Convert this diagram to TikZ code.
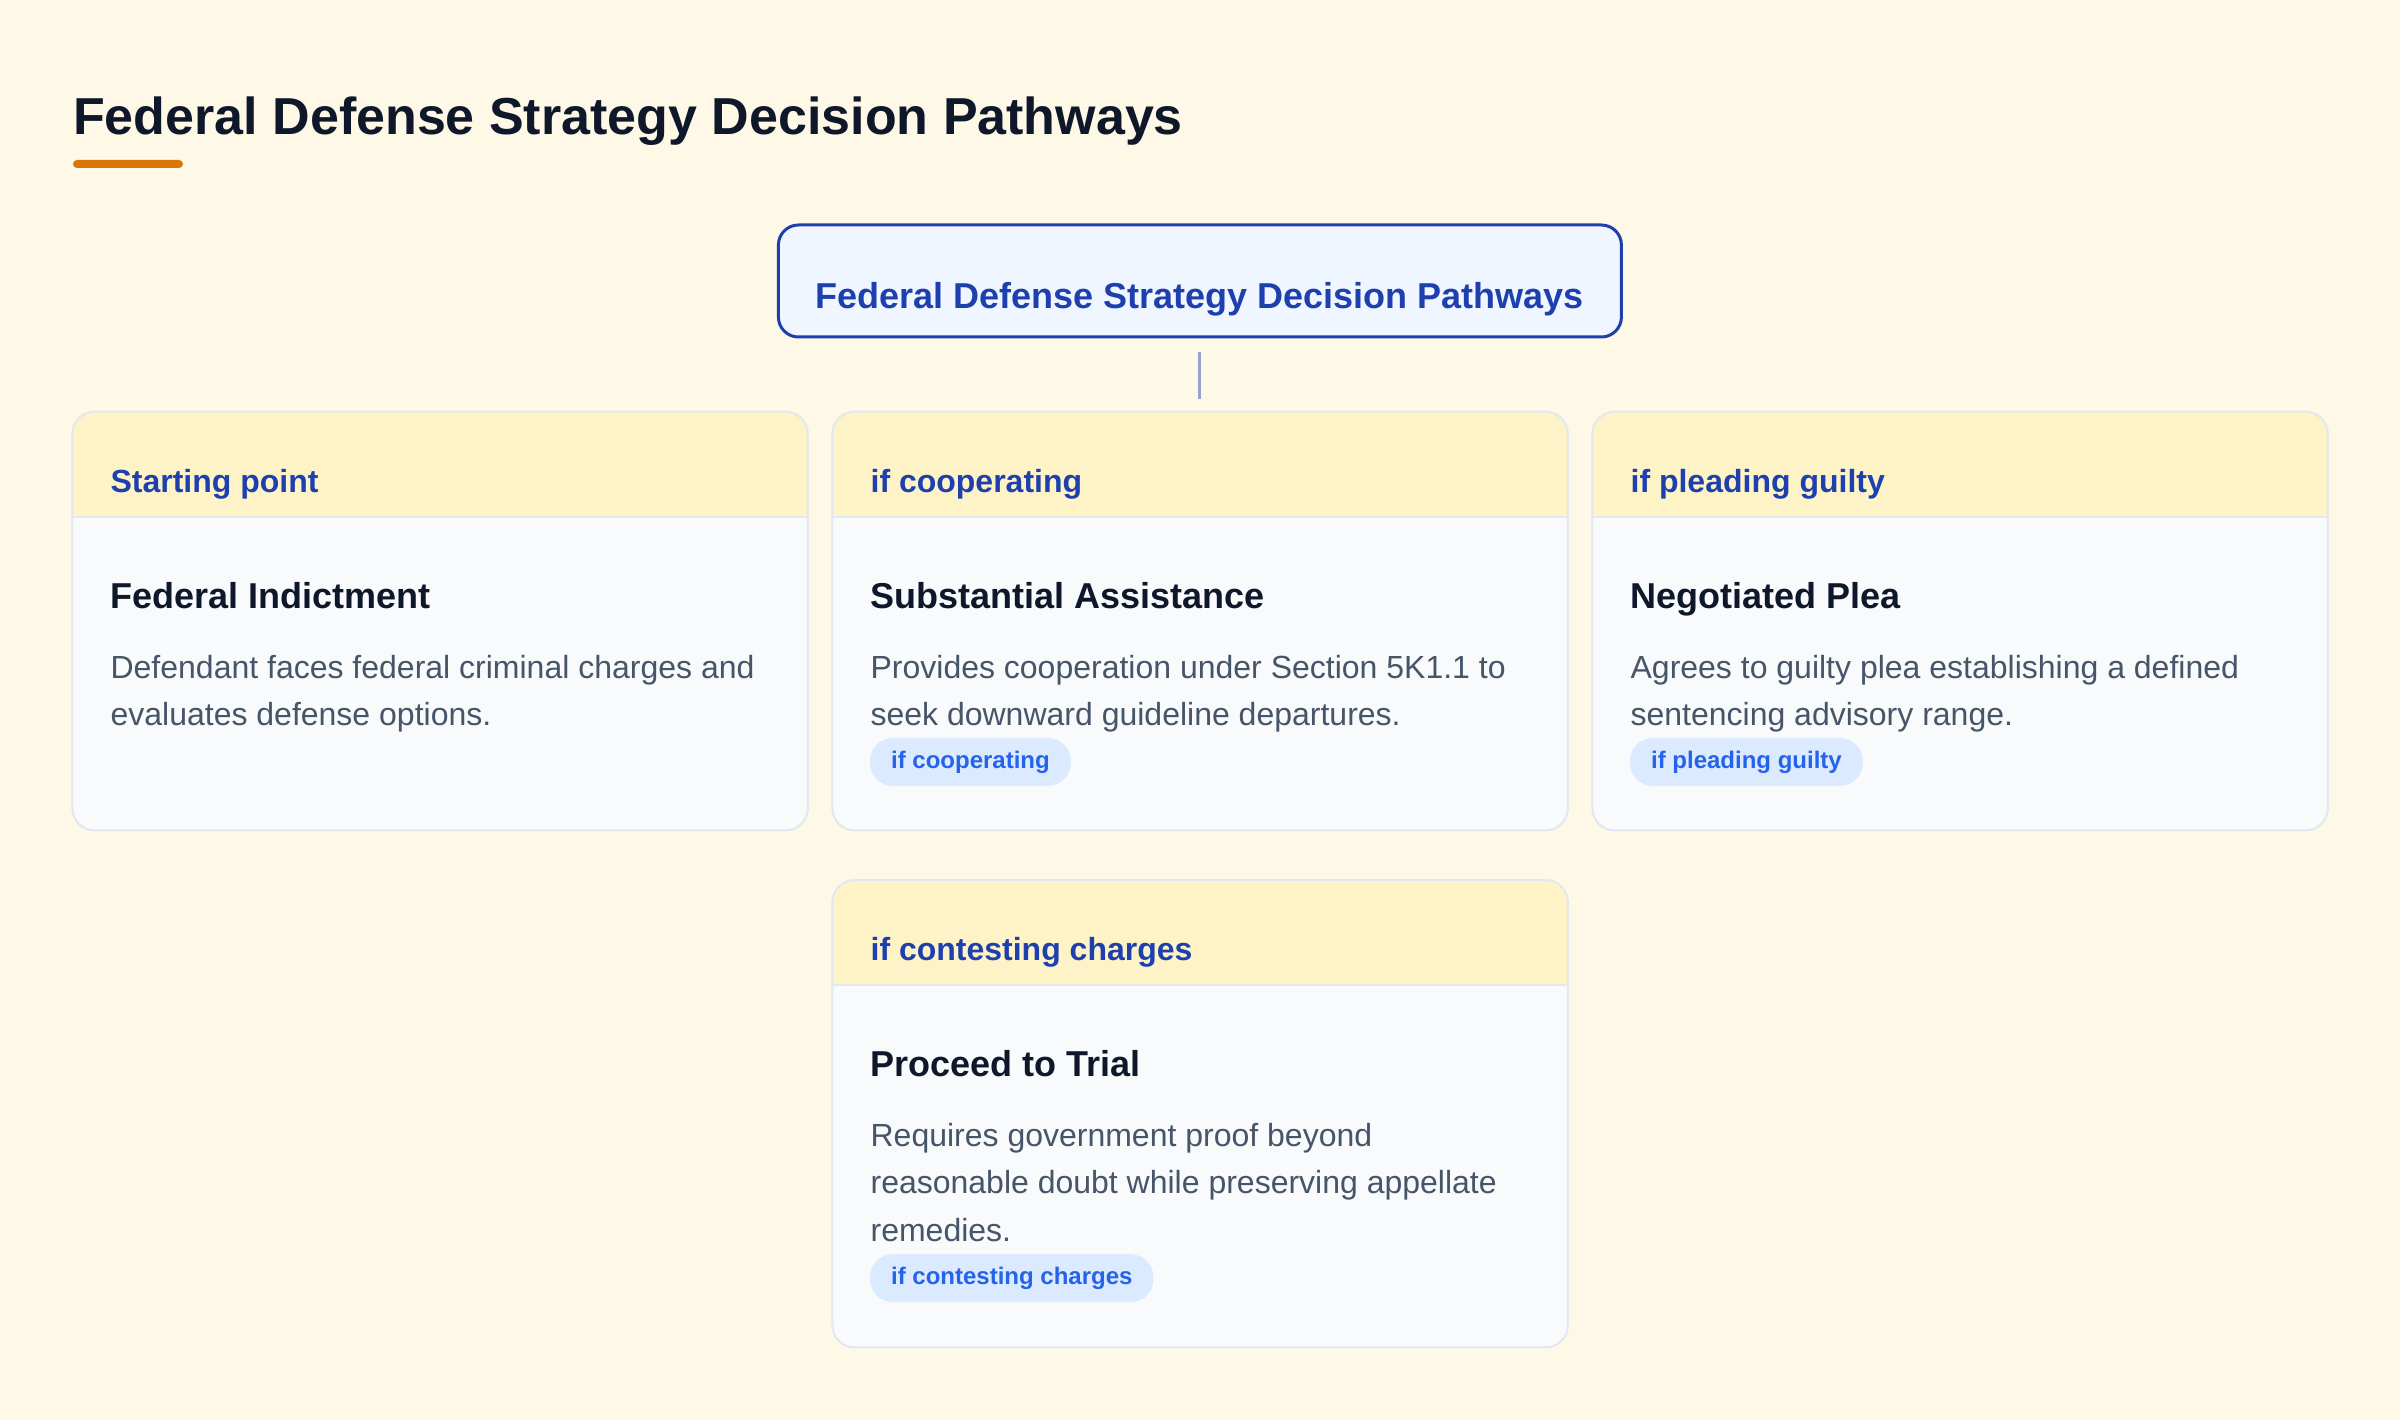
\documentclass[tikz,border=0pt]{standalone}
\usepackage{fontspec}
\setmainfont{Liberation Sans}
\usetikzlibrary{positioning}

\definecolor{bgcream}{HTML}{FEF9E7}
\definecolor{ink}{HTML}{0F172A}
\definecolor{slate}{HTML}{475569}
\definecolor{navy}{HTML}{1E40AF}
\definecolor{accent}{HTML}{D97706}
\definecolor{headfill}{HTML}{FEF3C7}
\definecolor{bodyfill}{HTML}{F8FAFC}
\definecolor{edge}{HTML}{E2E8F0}
\definecolor{rootfill}{HTML}{EFF6FF}
\definecolor{pillfill}{HTML}{DBEAFE}
\definecolor{pilltext}{HTML}{2563EB}
\definecolor{stem}{HTML}{94A3C8}

\tikzset{
  card/.style={fill=bodyfill, rounded corners=22pt, minimum width=735pt, anchor=north west, inner sep=0pt},
  headlbl/.style={anchor=base west, inner sep=0pt, text=navy, font=\bfseries\fontsize{32}{32}\selectfont},
  cardttl/.style={anchor=base west, inner sep=0pt, text=ink, font=\bfseries\fontsize{36}{36}\selectfont},
  cardtxt/.style={anchor=north west, inner sep=0pt, align=left, text=slate, font=\fontsize{32}{47.5}\selectfont},
  pill/.style={anchor=north west, fill=pillfill, rounded corners=23pt, minimum height=48pt, inner xsep=21pt, inner ysep=0pt, text=pilltext, font=\bfseries\fontsize{24}{24}\selectfont},
  root/.style={draw=navy, line width=3pt, fill=rootfill, rounded corners=20pt, minimum width=843pt, minimum height=112pt, inner sep=0pt, text height=84pt, text depth=28pt, text=navy, font=\bfseries\fontsize{36}{36}\selectfont},
  stemline/.style={stem, line width=3pt}
}

\begin{document}
\begin{tikzpicture}[x=1pt,y=-1pt]
\fill[bgcream] (0,0) rectangle (2400,1420);
\useasboundingbox (0,0) rectangle (2400,1420);

\node[anchor=base west, inner sep=0pt, text=ink, font=\bfseries\fontsize{52}{52}\selectfont] (title) at (73,135) {Federal Defense Strategy Decision Pathways};
\fill[accent, rounded corners=4pt] (73,160) rectangle (183,168);

\node[root] (root) at (1199.9,281) {Federal Defense Strategy Decision Pathways};

\foreach \n/\x/\y/\h/\head/\ttl/\desc in {
  one/72.4/411.7/418.3/{Starting point}/{Federal Indictment}/{Defendant faces federal criminal charges and\\evaluates defense options.},
  two/832.4/411.7/418.3/{if cooperating}/{Substantial Assistance}/{Provides cooperation under Section 5K1.1 to\\seek downward guideline departures.},
  three/1592.4/411.7/418.3/{if pleading guilty}/{Negotiated Plea}/{Agrees to guilty plea establishing a defined\\sentencing advisory range.},
  four/832.4/880/467/{if contesting charges}/{Proceed to Trial}/{Requires government proof beyond\\reasonable doubt while preserving appellate\\remedies.}}
{
  \node[card, minimum height=\h pt] (card\n) at (\x,\y) {};
  \begin{scope}
    \clip[rounded corners=22pt] (card\n.north west) rectangle (card\n.south east);
    \fill[headfill] (card\n.north west) rectangle ([yshift=-105pt]card\n.north east);
  \end{scope}
  \draw[edge, line width=2pt] ([yshift=-105pt]card\n.north west) -- ([yshift=-105pt]card\n.north east);
  \draw[edge, line width=2pt, rounded corners=22pt] (card\n.north west) rectangle (card\n.south east);
  \node[headlbl] (head\n) at ([xshift=38pt,yshift=-80.5pt]card\n.north west) {\head};
  \node[cardttl] (ttl\n) at ([xshift=38pt,yshift=-196.5pt]card\n.north west) {\ttl};
  \node[cardtxt] (desc\n) at ([xshift=38pt,yshift=-233pt]card\n.north west) {\strut\desc};
}

\node[pill] (tagtwo) at ([xshift=37.5pt,yshift=-326pt]cardtwo.north west) {if cooperating};
\node[pill] (tagthree) at ([xshift=37.5pt,yshift=-326pt]cardthree.north west) {if pleading guilty};
\node[pill] (tagfour) at ([xshift=37.5pt,yshift=-374pt]cardfour.north west) {if contesting charges};

\draw[stemline] ([yshift=-13pt]root.south) -- ([yshift=13pt]root.south |- cardtwo.north);
\end{tikzpicture}
\end{document}
